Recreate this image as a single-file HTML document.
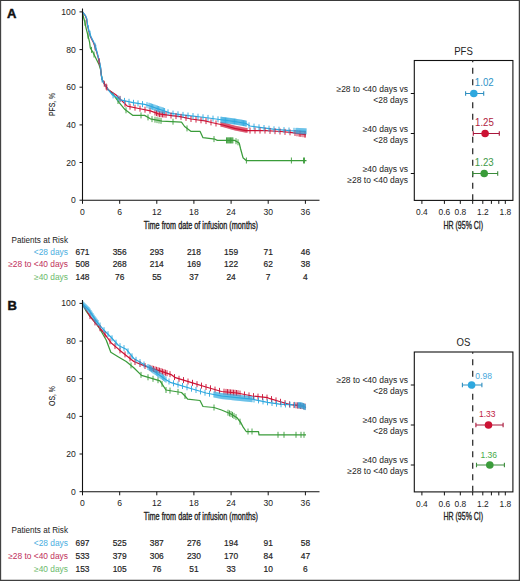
<!DOCTYPE html><html><head><meta charset="utf-8"><style>html,body{margin:0;padding:0;background:#fff;}svg{display:block;}</style></head><body><svg width="520" height="581" viewBox="0 0 520 581">
<rect x="0" y="0" width="520" height="581" fill="#fff"/>
<polyline points="82.6,12.0 83.4,17.0 84.8,21.8 86.2,28.6 88.3,36.9 89.6,42.4 90.3,48.0 92.4,51.3 95.5,57.5 99.1,64.8 100.7,70.0 102.1,79.5 104.2,83.6 108.3,89.8 112.0,92.8 119.2,102.7 125.0,109.6 133.0,115.4 144.6,115.4 150.4,118.8 162.0,121.1 181.5,122.1 184.6,126.5 190.8,131.3 200.0,131.3 203.0,137.7 215.0,139.2 217.3,140.4 234.6,140.4 239.2,143.0 240.5,148.5 243.0,157.7 246.2,160.5 306.5,160.5" fill="none" stroke="#3a9c3a" stroke-width="1.25" stroke-linejoin="round"/>
<polyline points="82.6,12.0 85.3,15.6 86.6,19.0 87.4,25.2 88.7,30.7 90.6,36.9 93.4,42.4 95.4,48.0 96.7,52.0 98.2,57.5 99.8,64.0 100.6,68.0 101.2,75.0 102.1,79.5 104.2,83.6 108.3,89.8 115.8,94.8 127.3,106.1 138.8,108.5 150.4,110.8 158.4,113.8 170.0,115.4 180.0,116.6 191.0,119.0 205.0,120.8 211.5,122.5 223.0,125.0 234.6,128.3 246.0,130.6 265.4,130.6 280.8,131.5 290.0,132.3 306.0,134.6" fill="none" stroke="#cc1234" stroke-width="1.25" stroke-linejoin="round"/>
<polyline points="82.6,12.0 85.5,15.6 86.9,19.0 87.6,25.2 89.0,30.7 91.0,36.9 93.8,42.4 95.8,48.0 97.0,52.0 98.4,57.5 100.0,64.0 100.7,68.0 101.2,75.0 102.1,79.5 104.2,83.6 108.3,89.8 112.5,95.0 121.5,100.2 133.0,102.7 144.6,104.4 150.0,106.0 158.0,108.8 166.0,111.5 170.0,113.2 180.0,114.6 191.0,115.8 205.0,117.5 223.0,120.0 234.6,121.5 246.0,123.5 250.0,126.0 261.5,127.7 273.0,129.2 290.0,130.6 306.0,131.3" fill="none" stroke="#2ea8df" stroke-width="1.25" stroke-linejoin="round"/>
<path d="M85.0 19.8v6.0M88.0 32.7v6.0M91.5 46.9v6.0M94.0 51.5v6.0M118.0 98.0v6.0M126.0 107.3v6.0M141.0 112.4v6.0M148.0 114.4v6.0M152.0 116.1v6.0M155.0 116.7v6.0M157.0 117.1v6.0M159.0 117.5v6.0M161.0 117.9v6.0M173.0 118.7v6.0M187.0 125.4v6.0M214.0 136.1v6.0M226.5 137.4v6.0M227.3 137.4v6.0M228.1 137.4v6.0M228.9 137.4v6.0M229.7 137.4v6.0M230.5 137.4v6.0M231.3 137.4v6.0M232.1 137.4v6.0M232.9 137.4v6.0M236.0 138.2v6.0M238.0 139.3v6.0M246.4 157.5v6.0M291.4 157.5v6.0M303.5 157.5v6.0M304.5 157.5v6.0" stroke="#3a9c3a" stroke-width="0.9" fill="none"/>
<path d="M95.1 44.3v6.0M104.3 80.8v6.0M99.1 58.2v6.0M106.1 83.5v6.0M106.8 84.5v6.0M120.0 95.9v6.0M125.0 100.8v6.0M130.0 103.7v6.0M135.0 104.7v6.0M140.0 105.7v6.0M145.0 106.7v6.0M150.0 107.7v6.0M155.0 109.5v6.0M156.5 110.1v6.0M158.0 110.6v6.0M159.5 111.0v6.0M161.0 111.2v6.0M162.5 111.4v6.0M164.0 111.6v6.0M166.0 111.8v6.0M171.0 112.5v6.0M176.0 113.1v6.0M181.0 113.8v6.0M186.0 114.9v6.0M191.0 116.0v6.0M196.0 116.6v6.0M201.0 117.3v6.0M206.0 118.1v6.0M211.0 119.4v6.0M216.0 120.5v6.0M250.0 127.6v6.0M255.0 127.6v6.0M260.0 127.6v6.0M265.0 127.6v6.0M270.0 127.9v6.0M275.0 128.2v6.0M280.0 128.5v6.0M285.0 128.9v6.0M290.0 129.3v6.0M295.0 130.0v6.0M300.0 130.7v6.0M305.0 131.5v6.0M297.0 130.3v6.0M299.0 130.6v6.0M301.0 130.9v6.0M303.0 131.2v6.0M305.0 131.5v6.0" stroke="#cc1234" stroke-width="0.9" fill="none"/>
<path d="M221.0 121.9v4.8M222.0 122.1v4.8M223.0 122.3v4.8M224.0 122.6v4.8M225.0 122.9v4.8M226.0 123.2v4.8M227.0 123.4v4.8M228.0 123.7v4.8M229.0 124.0v4.8M230.0 124.3v4.8M231.0 124.6v4.8M232.0 124.9v4.8M233.0 125.1v4.8M234.0 125.4v4.8M235.0 125.7v4.8M236.0 125.9v4.8M237.0 126.1v4.8M238.0 126.3v4.8M239.0 126.5v4.8M240.0 126.7v4.8M241.0 126.9v4.8M242.0 127.1v4.8M243.0 127.3v4.8M244.0 127.5v4.8M245.0 127.7v4.8M246.0 127.9v4.8M247.0 127.9v4.8" stroke="#cc1234" stroke-width="0.9" fill="none"/>
<path d="M90.0 30.7v6.0M88.4 25.3v6.0M113.1 92.4v6.0M95.8 44.9v6.0M95.0 42.8v6.0M117.9 95.1v6.0M102.1 76.5v6.0M120.0 96.3v6.0M124.5 97.9v6.0M129.0 98.8v6.0M133.5 99.8v6.0M138.0 100.4v6.0M142.5 101.1v6.0M147.0 102.1v6.0M149.0 102.7v6.0M150.2 103.1v6.0M151.4 103.5v6.0M152.6 103.9v6.0M153.8 104.3v6.0M155.0 104.7v6.0M156.2 105.2v6.0M157.4 105.6v6.0M158.6 106.0v6.0M159.8 106.4v6.0M161.0 106.8v6.0M162.2 107.2v6.0M163.4 107.6v6.0M164.6 108.0v6.0M168.0 109.3v6.0M173.0 110.6v6.0M178.0 111.3v6.0M183.0 111.9v6.0M188.0 112.5v6.0M193.0 113.0v6.0M198.0 113.7v6.0M203.0 114.3v6.0M208.0 114.9v6.0M213.0 115.6v6.0M218.0 116.3v6.0M221.0 116.7v6.0M221.9 116.8v6.0M222.8 117.0v6.0M223.7 117.1v6.0M224.6 117.2v6.0M225.5 117.3v6.0M226.4 117.4v6.0M227.3 117.6v6.0M228.2 117.7v6.0M229.1 117.8v6.0M230.0 117.9v6.0M230.9 118.0v6.0M231.8 118.1v6.0M232.7 118.3v6.0M233.6 118.4v6.0M234.5 118.5v6.0M235.4 118.6v6.0M236.3 118.8v6.0M237.2 119.0v6.0M238.1 119.1v6.0M239.0 119.3v6.0M239.9 119.4v6.0M240.8 119.6v6.0M241.7 119.7v6.0M242.6 119.9v6.0M243.5 120.1v6.0M244.4 120.2v6.0M245.3 120.4v6.0M246.2 120.6v6.0M249.0 122.4v6.0M254.0 123.6v6.0M259.0 124.3v6.0M264.0 125.0v6.0M269.0 125.7v6.0M274.0 126.3v6.0M279.0 126.7v6.0M284.0 127.1v6.0M289.0 127.5v6.0M294.0 127.8v6.0M296.0 127.9v6.0M297.0 127.9v6.0M298.0 127.9v6.0M299.0 128.0v6.0M300.0 128.0v6.0M301.0 128.1v6.0M302.0 128.1v6.0M303.0 128.2v6.0M304.0 128.2v6.0M305.0 128.3v6.0M306.0 128.3v6.0" stroke="#2ea8df" stroke-width="0.9" fill="none"/>
<polyline points="82.6,304.0 86.0,311.0 89.2,315.4 95.0,322.0 100.0,329.2 106.2,340.0 110.8,352.3 118.5,357.0 126.2,361.5 133.8,367.7 141.5,375.4 149.2,377.7 160.0,380.8 166.0,390.0 181.5,392.5 185.0,396.0 187.7,399.2 200.0,400.5 203.0,406.5 214.0,407.5 221.5,410.0 231.0,414.0 237.0,417.7 241.0,423.0 243.0,426.9 246.2,431.5 258.5,431.5 259.0,434.8 306.0,434.8" fill="none" stroke="#3a9c3a" stroke-width="1.25" stroke-linejoin="round"/>
<polyline points="82.6,304.0 86.2,310.0 89.5,315.5 93.4,320.5 100.7,329.0 106.9,337.0 111.0,342.7 118.8,349.4 126.2,355.4 133.8,361.5 141.5,364.6 149.2,367.7 160.0,370.8 171.1,374.6 175.4,377.7 190.8,382.3 206.0,387.0 221.5,391.5 237.0,393.0 252.3,396.0 267.7,397.7 270.0,398.7 279.6,401.5 289.2,404.4 304.6,406.5" fill="none" stroke="#cc1234" stroke-width="1.25" stroke-linejoin="round"/>
<polyline points="82.6,304.0 89.2,310.3 95.4,319.8 103.0,329.2 110.8,337.0 118.5,345.5 126.2,349.2 133.8,358.5 141.5,363.0 149.2,367.7 160.0,375.4 166.5,380.0 171.1,382.7 175.4,383.8 190.8,388.5 206.0,393.0 221.5,396.0 237.0,397.7 252.3,399.2 267.7,402.3 279.6,404.2 294.0,404.9 301.7,405.4 306.0,407.5" fill="none" stroke="#2ea8df" stroke-width="1.25" stroke-linejoin="round"/>
<path d="M131.0 362.4v6.0M141.0 371.9v6.0M148.0 374.3v6.0M153.0 375.8v6.0M158.0 377.2v6.0M162.0 380.9v6.0M166.0 387.0v6.0M170.0 387.6v6.0M178.0 388.9v6.0M185.0 393.0v6.0M214.0 404.5v6.0M228.0 409.7v6.0M229.5 410.4v6.0M231.0 411.0v6.0M232.5 411.9v6.0M234.0 412.9v6.0M236.0 414.1v6.0M240.0 418.7v6.0M248.0 428.5v6.0M252.0 428.5v6.0M278.0 431.8v6.0M284.0 431.8v6.0M296.0 431.8v6.0M301.0 431.8v6.0M304.0 431.8v6.0" stroke="#3a9c3a" stroke-width="0.9" fill="none"/>
<path d="M90.0 313.1v6.0M95.0 319.4v6.0M100.0 325.2v6.0M105.0 331.5v6.0M110.0 338.3v6.0M115.0 343.1v6.0M120.0 347.4v6.0M125.0 351.4v6.0M130.0 355.4v6.0M135.0 359.0v6.0M140.0 361.0v6.0M145.0 363.0v6.0M150.0 364.9v6.0M152.0 365.5v6.0M153.5 365.9v6.0M155.0 366.4v6.0M156.5 366.8v6.0M158.0 367.2v6.0M159.5 367.7v6.0M161.0 368.1v6.0M162.5 368.7v6.0M164.0 369.2v6.0M165.5 369.7v6.0M167.0 370.2v6.0M170.0 371.2v6.0M174.5 374.1v6.0M179.0 375.8v6.0M183.5 377.1v6.0M188.0 378.5v6.0M192.5 379.8v6.0M197.0 381.2v6.0M201.5 382.6v6.0M206.0 384.0v6.0M210.5 385.3v6.0M215.0 386.6v6.0M219.5 387.9v6.0M224.0 388.7v6.0M226.0 388.9v6.0M227.5 389.1v6.0M229.0 389.2v6.0M230.5 389.4v6.0M232.0 389.5v6.0M233.5 389.7v6.0M235.0 389.8v6.0M236.5 390.0v6.0M238.0 390.2v6.0M240.0 390.6v6.0M244.5 391.5v6.0M249.0 392.4v6.0M253.5 393.1v6.0M258.0 393.6v6.0M262.5 394.1v6.0M267.0 394.6v6.0M271.5 396.1v6.0M276.0 397.4v6.0M280.5 398.8v6.0M285.0 400.1v6.0M289.5 401.4v6.0M294.0 402.1v6.0M296.0 402.3v6.0M297.5 402.5v6.0M299.0 402.7v6.0M300.5 402.9v6.0M302.0 403.1v6.0M303.5 403.4v6.0M305.0 403.5v6.0" stroke="#cc1234" stroke-width="0.9" fill="none"/>
<path d="M83.0 301.4v6.0M84.0 302.3v6.0M85.0 303.3v6.0M86.0 304.2v6.0M87.0 305.2v6.0M88.0 306.2v6.0M89.0 307.1v6.0M90.0 308.5v6.0M91.0 310.1v6.0M92.0 311.6v6.0M93.0 313.1v6.0M94.0 314.7v6.0M95.0 316.2v6.0M96.0 317.5v6.0M97.0 318.8v6.0M98.0 320.0v6.0M100.0 322.5v6.0M104.0 327.2v6.0M108.0 331.2v6.0M112.0 335.3v6.0M116.0 339.7v6.0M120.0 343.2v6.0M124.0 345.1v6.0M128.0 348.4v6.0M132.0 353.3v6.0M136.0 356.8v6.0M140.0 359.1v6.0M144.0 361.5v6.0M148.0 364.0v6.0M149.2 364.7v6.0M150.4 365.6v6.0M151.6 366.4v6.0M152.8 367.3v6.0M154.0 368.1v6.0M155.2 369.0v6.0M156.4 369.8v6.0M157.6 370.7v6.0M158.8 371.5v6.0M160.0 372.4v6.0M161.2 373.2v6.0M162.4 374.1v6.0M163.6 374.9v6.0M164.8 375.8v6.0M166.0 376.6v6.0M169.0 378.5v6.0M173.5 380.3v6.0M178.0 381.6v6.0M182.5 383.0v6.0M187.0 384.3v6.0M191.5 385.7v6.0M196.0 387.0v6.0M200.5 388.4v6.0M205.0 389.7v6.0M209.5 390.7v6.0M214.0 391.5v6.0M215.0 391.7v6.0M216.0 391.9v6.0M217.0 392.1v6.0M218.0 392.3v6.0M219.0 392.5v6.0M220.0 392.7v6.0M221.0 392.9v6.0M222.0 393.1v6.0M223.0 393.2v6.0M224.0 393.3v6.0M225.0 393.4v6.0M226.0 393.5v6.0M227.0 393.6v6.0M228.0 393.7v6.0M229.0 393.8v6.0M230.0 393.9v6.0M231.0 394.0v6.0M232.0 394.2v6.0M233.0 394.3v6.0M234.0 394.4v6.0M235.0 394.5v6.0M236.0 394.6v6.0M237.0 394.7v6.0M238.0 394.8v6.0M239.0 394.9v6.0M240.0 395.0v6.0M241.0 395.1v6.0M242.0 395.2v6.0M243.0 395.3v6.0M244.0 395.4v6.0M245.0 395.5v6.0M246.0 395.6v6.0M247.0 395.7v6.0M248.0 395.8v6.0M249.0 395.9v6.0M250.0 396.0v6.0M251.0 396.1v6.0M252.0 396.2v6.0M254.0 396.5v6.0M258.5 397.4v6.0M263.0 398.4v6.0M267.5 399.3v6.0M272.0 400.0v6.0M276.5 400.7v6.0M281.0 401.3v6.0M285.5 401.5v6.0M290.0 401.7v6.0M294.5 401.9v6.0M298.0 402.2v6.0M298.8 402.2v6.0M299.6 402.3v6.0M300.4 402.3v6.0M301.2 402.4v6.0M302.0 402.5v6.0M302.8 402.9v6.0M303.6 403.3v6.0M304.4 403.7v6.0M305.2 404.1v6.0" stroke="#2ea8df" stroke-width="0.9" fill="none"/>
<path d="M82.5 8.4V200.2H319.5" stroke="#111" stroke-width="1.1" fill="none"/>
<path d="M79.5 200.2H82.5" stroke="#111" stroke-width="1"/>
<text x="75.7" y="203.2" text-anchor="end" font-size="8.6" font-family="Liberation Sans, sans-serif" fill="#222">0</text>
<path d="M79.5 162.5H82.5" stroke="#111" stroke-width="1"/>
<text x="75.7" y="165.6" text-anchor="end" font-size="8.6" font-family="Liberation Sans, sans-serif" fill="#222">20</text>
<path d="M79.5 124.9H82.5" stroke="#111" stroke-width="1"/>
<text x="75.7" y="127.9" text-anchor="end" font-size="8.6" font-family="Liberation Sans, sans-serif" fill="#222">40</text>
<path d="M79.5 87.2H82.5" stroke="#111" stroke-width="1"/>
<text x="75.7" y="90.3" text-anchor="end" font-size="8.6" font-family="Liberation Sans, sans-serif" fill="#222">60</text>
<path d="M79.5 49.6H82.5" stroke="#111" stroke-width="1"/>
<text x="75.7" y="52.6" text-anchor="end" font-size="8.6" font-family="Liberation Sans, sans-serif" fill="#222">80</text>
<path d="M79.5 11.9H82.5" stroke="#111" stroke-width="1"/>
<text x="75.7" y="14.9" text-anchor="end" font-size="8.6" font-family="Liberation Sans, sans-serif" fill="#222">100</text>
<path d="M82.5 200.2V203.79999999999998" stroke="#111" stroke-width="1"/>
<text x="82.5" y="214.7" text-anchor="middle" font-size="8.6" font-family="Liberation Sans, sans-serif" fill="#222">0</text>
<path d="M119.7 200.2V203.79999999999998" stroke="#111" stroke-width="1"/>
<text x="119.7" y="214.7" text-anchor="middle" font-size="8.6" font-family="Liberation Sans, sans-serif" fill="#222">6</text>
<path d="M156.8 200.2V203.79999999999998" stroke="#111" stroke-width="1"/>
<text x="156.8" y="214.7" text-anchor="middle" font-size="8.6" font-family="Liberation Sans, sans-serif" fill="#222">12</text>
<path d="M193.9 200.2V203.79999999999998" stroke="#111" stroke-width="1"/>
<text x="193.9" y="214.7" text-anchor="middle" font-size="8.6" font-family="Liberation Sans, sans-serif" fill="#222">18</text>
<path d="M231.1 200.2V203.79999999999998" stroke="#111" stroke-width="1"/>
<text x="231.1" y="214.7" text-anchor="middle" font-size="8.6" font-family="Liberation Sans, sans-serif" fill="#222">24</text>
<path d="M268.2 200.2V203.79999999999998" stroke="#111" stroke-width="1"/>
<text x="268.2" y="214.7" text-anchor="middle" font-size="8.6" font-family="Liberation Sans, sans-serif" fill="#222">30</text>
<path d="M305.4 200.2V203.79999999999998" stroke="#111" stroke-width="1"/>
<text x="305.4" y="214.7" text-anchor="middle" font-size="8.6" font-family="Liberation Sans, sans-serif" fill="#222">36</text>
<text transform="translate(143.8,228.7) scale(0.666,1)" font-size="10.9" font-family="Liberation Sans, sans-serif" fill="#222" stroke="#222" stroke-width="0.35">Time from date of infusion (months)</text>
<text transform="translate(55.2,104.5) rotate(-90) scale(0.70,1)" text-anchor="middle" font-size="9.8" font-family="Liberation Sans, sans-serif" fill="#222" stroke="#222" stroke-width="0.1">PFS, %</text>
<path d="M82.5 299.9V491.7H319.5" stroke="#111" stroke-width="1.1" fill="none"/>
<path d="M79.5 491.7H82.5" stroke="#111" stroke-width="1"/>
<text x="75.7" y="494.8" text-anchor="end" font-size="8.6" font-family="Liberation Sans, sans-serif" fill="#222">0</text>
<path d="M79.5 454.0H82.5" stroke="#111" stroke-width="1"/>
<text x="75.7" y="457.1" text-anchor="end" font-size="8.6" font-family="Liberation Sans, sans-serif" fill="#222">20</text>
<path d="M79.5 416.4H82.5" stroke="#111" stroke-width="1"/>
<text x="75.7" y="419.4" text-anchor="end" font-size="8.6" font-family="Liberation Sans, sans-serif" fill="#222">40</text>
<path d="M79.5 378.7H82.5" stroke="#111" stroke-width="1"/>
<text x="75.7" y="381.8" text-anchor="end" font-size="8.6" font-family="Liberation Sans, sans-serif" fill="#222">60</text>
<path d="M79.5 341.1H82.5" stroke="#111" stroke-width="1"/>
<text x="75.7" y="344.1" text-anchor="end" font-size="8.6" font-family="Liberation Sans, sans-serif" fill="#222">80</text>
<path d="M79.5 303.4H82.5" stroke="#111" stroke-width="1"/>
<text x="75.7" y="306.4" text-anchor="end" font-size="8.6" font-family="Liberation Sans, sans-serif" fill="#222">100</text>
<path d="M82.5 491.7V495.3" stroke="#111" stroke-width="1"/>
<text x="82.5" y="506.2" text-anchor="middle" font-size="8.6" font-family="Liberation Sans, sans-serif" fill="#222">0</text>
<path d="M119.7 491.7V495.3" stroke="#111" stroke-width="1"/>
<text x="119.7" y="506.2" text-anchor="middle" font-size="8.6" font-family="Liberation Sans, sans-serif" fill="#222">6</text>
<path d="M156.8 491.7V495.3" stroke="#111" stroke-width="1"/>
<text x="156.8" y="506.2" text-anchor="middle" font-size="8.6" font-family="Liberation Sans, sans-serif" fill="#222">12</text>
<path d="M193.9 491.7V495.3" stroke="#111" stroke-width="1"/>
<text x="193.9" y="506.2" text-anchor="middle" font-size="8.6" font-family="Liberation Sans, sans-serif" fill="#222">18</text>
<path d="M231.1 491.7V495.3" stroke="#111" stroke-width="1"/>
<text x="231.1" y="506.2" text-anchor="middle" font-size="8.6" font-family="Liberation Sans, sans-serif" fill="#222">24</text>
<path d="M268.2 491.7V495.3" stroke="#111" stroke-width="1"/>
<text x="268.2" y="506.2" text-anchor="middle" font-size="8.6" font-family="Liberation Sans, sans-serif" fill="#222">30</text>
<path d="M305.4 491.7V495.3" stroke="#111" stroke-width="1"/>
<text x="305.4" y="506.2" text-anchor="middle" font-size="8.6" font-family="Liberation Sans, sans-serif" fill="#222">36</text>
<text transform="translate(143.8,520.2) scale(0.666,1)" font-size="10.9" font-family="Liberation Sans, sans-serif" fill="#222" stroke="#222" stroke-width="0.35">Time from date of infusion (months)</text>
<text transform="translate(55.2,396) rotate(-90) scale(0.70,1)" text-anchor="middle" font-size="9.8" font-family="Liberation Sans, sans-serif" fill="#222" stroke="#222" stroke-width="0.1">OS, %</text>
<text transform="translate(11.5,242.5) scale(0.83,1)" font-size="9.8" font-family="Liberation Sans, sans-serif" fill="#222">Patients at Risk</text>
<text x="68" y="254.9" text-anchor="end" font-size="8.4" font-family="Liberation Sans, sans-serif" fill="#4aaee0">&lt;28 days</text>
<text x="82.5" y="254.9" text-anchor="middle" font-size="8.4" font-family="Liberation Sans, sans-serif" fill="#222" stroke="#222" stroke-width="0.18">671</text>
<text x="119.7" y="254.9" text-anchor="middle" font-size="8.4" font-family="Liberation Sans, sans-serif" fill="#222" stroke="#222" stroke-width="0.18">356</text>
<text x="156.8" y="254.9" text-anchor="middle" font-size="8.4" font-family="Liberation Sans, sans-serif" fill="#222" stroke="#222" stroke-width="0.18">293</text>
<text x="193.9" y="254.9" text-anchor="middle" font-size="8.4" font-family="Liberation Sans, sans-serif" fill="#222" stroke="#222" stroke-width="0.18">218</text>
<text x="231.1" y="254.9" text-anchor="middle" font-size="8.4" font-family="Liberation Sans, sans-serif" fill="#222" stroke="#222" stroke-width="0.18">159</text>
<text x="268.2" y="254.9" text-anchor="middle" font-size="8.4" font-family="Liberation Sans, sans-serif" fill="#222" stroke="#222" stroke-width="0.18">71</text>
<text x="305.4" y="254.9" text-anchor="middle" font-size="8.4" font-family="Liberation Sans, sans-serif" fill="#222" stroke="#222" stroke-width="0.18">46</text>
<text x="68" y="267.0" text-anchor="end" font-size="8.4" font-family="Liberation Sans, sans-serif" fill="#c0305a">≥28 to &lt;40 days</text>
<text x="82.5" y="267.0" text-anchor="middle" font-size="8.4" font-family="Liberation Sans, sans-serif" fill="#222" stroke="#222" stroke-width="0.18">508</text>
<text x="119.7" y="267.0" text-anchor="middle" font-size="8.4" font-family="Liberation Sans, sans-serif" fill="#222" stroke="#222" stroke-width="0.18">268</text>
<text x="156.8" y="267.0" text-anchor="middle" font-size="8.4" font-family="Liberation Sans, sans-serif" fill="#222" stroke="#222" stroke-width="0.18">214</text>
<text x="193.9" y="267.0" text-anchor="middle" font-size="8.4" font-family="Liberation Sans, sans-serif" fill="#222" stroke="#222" stroke-width="0.18">169</text>
<text x="231.1" y="267.0" text-anchor="middle" font-size="8.4" font-family="Liberation Sans, sans-serif" fill="#222" stroke="#222" stroke-width="0.18">122</text>
<text x="268.2" y="267.0" text-anchor="middle" font-size="8.4" font-family="Liberation Sans, sans-serif" fill="#222" stroke="#222" stroke-width="0.18">62</text>
<text x="305.4" y="267.0" text-anchor="middle" font-size="8.4" font-family="Liberation Sans, sans-serif" fill="#222" stroke="#222" stroke-width="0.18">38</text>
<text x="68" y="280.0" text-anchor="end" font-size="8.4" font-family="Liberation Sans, sans-serif" fill="#6cba6c">≥40 days</text>
<text x="82.5" y="280.0" text-anchor="middle" font-size="8.4" font-family="Liberation Sans, sans-serif" fill="#222" stroke="#222" stroke-width="0.18">148</text>
<text x="119.7" y="280.0" text-anchor="middle" font-size="8.4" font-family="Liberation Sans, sans-serif" fill="#222" stroke="#222" stroke-width="0.18">76</text>
<text x="156.8" y="280.0" text-anchor="middle" font-size="8.4" font-family="Liberation Sans, sans-serif" fill="#222" stroke="#222" stroke-width="0.18">55</text>
<text x="193.9" y="280.0" text-anchor="middle" font-size="8.4" font-family="Liberation Sans, sans-serif" fill="#222" stroke="#222" stroke-width="0.18">37</text>
<text x="231.1" y="280.0" text-anchor="middle" font-size="8.4" font-family="Liberation Sans, sans-serif" fill="#222" stroke="#222" stroke-width="0.18">24</text>
<text x="268.2" y="280.0" text-anchor="middle" font-size="8.4" font-family="Liberation Sans, sans-serif" fill="#222" stroke="#222" stroke-width="0.18">7</text>
<text x="305.4" y="280.0" text-anchor="middle" font-size="8.4" font-family="Liberation Sans, sans-serif" fill="#222" stroke="#222" stroke-width="0.18">4</text>
<text transform="translate(11.5,532.5425) scale(0.83,1)" font-size="9.8" font-family="Liberation Sans, sans-serif" fill="#222">Patients at Risk</text>
<text x="68" y="545.8" text-anchor="end" font-size="8.4" font-family="Liberation Sans, sans-serif" fill="#4aaee0">&lt;28 days</text>
<text x="82.5" y="545.8" text-anchor="middle" font-size="8.4" font-family="Liberation Sans, sans-serif" fill="#222" stroke="#222" stroke-width="0.18">697</text>
<text x="119.7" y="545.8" text-anchor="middle" font-size="8.4" font-family="Liberation Sans, sans-serif" fill="#222" stroke="#222" stroke-width="0.18">525</text>
<text x="156.8" y="545.8" text-anchor="middle" font-size="8.4" font-family="Liberation Sans, sans-serif" fill="#222" stroke="#222" stroke-width="0.18">387</text>
<text x="193.9" y="545.8" text-anchor="middle" font-size="8.4" font-family="Liberation Sans, sans-serif" fill="#222" stroke="#222" stroke-width="0.18">276</text>
<text x="231.1" y="545.8" text-anchor="middle" font-size="8.4" font-family="Liberation Sans, sans-serif" fill="#222" stroke="#222" stroke-width="0.18">194</text>
<text x="268.2" y="545.8" text-anchor="middle" font-size="8.4" font-family="Liberation Sans, sans-serif" fill="#222" stroke="#222" stroke-width="0.18">91</text>
<text x="305.4" y="545.8" text-anchor="middle" font-size="8.4" font-family="Liberation Sans, sans-serif" fill="#222" stroke="#222" stroke-width="0.18">58</text>
<text x="68" y="558.8" text-anchor="end" font-size="8.4" font-family="Liberation Sans, sans-serif" fill="#c0305a">≥28 to &lt;40 days</text>
<text x="82.5" y="558.8" text-anchor="middle" font-size="8.4" font-family="Liberation Sans, sans-serif" fill="#222" stroke="#222" stroke-width="0.18">533</text>
<text x="119.7" y="558.8" text-anchor="middle" font-size="8.4" font-family="Liberation Sans, sans-serif" fill="#222" stroke="#222" stroke-width="0.18">379</text>
<text x="156.8" y="558.8" text-anchor="middle" font-size="8.4" font-family="Liberation Sans, sans-serif" fill="#222" stroke="#222" stroke-width="0.18">306</text>
<text x="193.9" y="558.8" text-anchor="middle" font-size="8.4" font-family="Liberation Sans, sans-serif" fill="#222" stroke="#222" stroke-width="0.18">230</text>
<text x="231.1" y="558.8" text-anchor="middle" font-size="8.4" font-family="Liberation Sans, sans-serif" fill="#222" stroke="#222" stroke-width="0.18">170</text>
<text x="268.2" y="558.8" text-anchor="middle" font-size="8.4" font-family="Liberation Sans, sans-serif" fill="#222" stroke="#222" stroke-width="0.18">84</text>
<text x="305.4" y="558.8" text-anchor="middle" font-size="8.4" font-family="Liberation Sans, sans-serif" fill="#222" stroke="#222" stroke-width="0.18">47</text>
<text x="68" y="571.5" text-anchor="end" font-size="8.4" font-family="Liberation Sans, sans-serif" fill="#6cba6c">≥40 days</text>
<text x="82.5" y="571.5" text-anchor="middle" font-size="8.4" font-family="Liberation Sans, sans-serif" fill="#222" stroke="#222" stroke-width="0.18">153</text>
<text x="119.7" y="571.5" text-anchor="middle" font-size="8.4" font-family="Liberation Sans, sans-serif" fill="#222" stroke="#222" stroke-width="0.18">105</text>
<text x="156.8" y="571.5" text-anchor="middle" font-size="8.4" font-family="Liberation Sans, sans-serif" fill="#222" stroke="#222" stroke-width="0.18">76</text>
<text x="193.9" y="571.5" text-anchor="middle" font-size="8.4" font-family="Liberation Sans, sans-serif" fill="#222" stroke="#222" stroke-width="0.18">51</text>
<text x="231.1" y="571.5" text-anchor="middle" font-size="8.4" font-family="Liberation Sans, sans-serif" fill="#222" stroke="#222" stroke-width="0.18">33</text>
<text x="268.2" y="571.5" text-anchor="middle" font-size="8.4" font-family="Liberation Sans, sans-serif" fill="#222" stroke="#222" stroke-width="0.18">10</text>
<text x="305.4" y="571.5" text-anchor="middle" font-size="8.4" font-family="Liberation Sans, sans-serif" fill="#222" stroke="#222" stroke-width="0.18">6</text>
<rect x="414.3" y="60.5" width="98.59999999999997" height="139.9" fill="none" stroke="#111" stroke-width="1.1"/>
<text transform="translate(463.5,54.7) scale(0.87,1)" text-anchor="middle" font-size="11" font-family="Liberation Sans, sans-serif" fill="#222">PFS</text>
<path d="M472.7 60.5V200.4" stroke="#333" stroke-width="1.3" stroke-dasharray="6 5.5" stroke-dashoffset="4.3"/>
<path d="M421.9 200.4V203.9" stroke="#111" stroke-width="1"/>
<text x="421.9" y="215.0" text-anchor="middle" font-size="8.4" font-family="Liberation Sans, sans-serif" fill="#222">0.4</text>
<path d="M444.4 200.4V203.9" stroke="#111" stroke-width="1"/>
<text x="444.4" y="215.0" text-anchor="middle" font-size="8.4" font-family="Liberation Sans, sans-serif" fill="#222">0.6</text>
<path d="M460.3 200.4V203.9" stroke="#111" stroke-width="1"/>
<text x="460.3" y="215.0" text-anchor="middle" font-size="8.4" font-family="Liberation Sans, sans-serif" fill="#222">0.8</text>
<path d="M472.7 200.4V203.9" stroke="#111" stroke-width="1"/>
<path d="M482.8 200.4V203.9" stroke="#111" stroke-width="1"/>
<text x="482.8" y="215.0" text-anchor="middle" font-size="8.4" font-family="Liberation Sans, sans-serif" fill="#222">1.2</text>
<path d="M491.4 200.4V203.9" stroke="#111" stroke-width="1"/>
<path d="M498.8 200.4V203.9" stroke="#111" stroke-width="1"/>
<path d="M505.3 200.4V203.9" stroke="#111" stroke-width="1"/>
<text x="505.3" y="215.0" text-anchor="middle" font-size="8.4" font-family="Liberation Sans, sans-serif" fill="#222">1.8</text>
<text transform="translate(463.3,228.8) scale(0.656,1)" text-anchor="middle" font-size="10.7" font-family="Liberation Sans, sans-serif" fill="#222" stroke="#222" stroke-width="0.35">HR (95% CI)</text>
<path d="M410.8 93.5H414.3" stroke="#111" stroke-width="1"/>
<text x="408" y="91.5" text-anchor="end" font-size="8.5" font-family="Liberation Sans, sans-serif" fill="#222">≥28 to &lt;40 days vs</text>
<text x="408" y="102.5" text-anchor="end" font-size="8.5" font-family="Liberation Sans, sans-serif" fill="#222">&lt;28 days</text>
<path d="M465.6 93.5H483.7M465.6 91.3v4.4M483.7 91.3v4.4" stroke="#2f8fc0" stroke-width="1.1" fill="none"/>
<circle cx="473.8" cy="93.5" r="3.8" fill="#2ea8df"/>
<text transform="translate(474.8,86.0) scale(0.96,1)" font-size="10.1" font-family="Liberation Sans, sans-serif" fill="#2f94c8">1.02</text>
<path d="M410.8 133.5H414.3" stroke="#111" stroke-width="1"/>
<text x="408" y="131.5" text-anchor="end" font-size="8.5" font-family="Liberation Sans, sans-serif" fill="#222">≥40 days vs</text>
<text x="408" y="142.5" text-anchor="end" font-size="8.5" font-family="Liberation Sans, sans-serif" fill="#222">&lt;28 days</text>
<path d="M473.3 133.5H499.3M473.3 131.3v4.4M499.3 131.3v4.4" stroke="#a8163a" stroke-width="1.1" fill="none"/>
<circle cx="485.1" cy="133.5" r="3.8" fill="#cc1234"/>
<text transform="translate(475,126.4) scale(0.96,1)" font-size="10.1" font-family="Liberation Sans, sans-serif" fill="#b01c40">1.25</text>
<path d="M410.8 173.5H414.3" stroke="#111" stroke-width="1"/>
<text x="408" y="171.5" text-anchor="end" font-size="8.5" font-family="Liberation Sans, sans-serif" fill="#222">≥40 days vs</text>
<text x="408" y="182.5" text-anchor="end" font-size="8.5" font-family="Liberation Sans, sans-serif" fill="#222">≥28 to &lt;40 days</text>
<path d="M472.7 173.5H497.7M472.7 171.3v4.4M497.7 171.3v4.4" stroke="#3c8c3c" stroke-width="1.1" fill="none"/>
<circle cx="484.2" cy="173.5" r="3.8" fill="#3a9c3a"/>
<text transform="translate(474.8,166.3) scale(0.96,1)" font-size="10.1" font-family="Liberation Sans, sans-serif" fill="#3e9a48">1.23</text>
<rect x="414.3" y="352.0" width="98.59999999999997" height="139.89999999999998" fill="none" stroke="#111" stroke-width="1.1"/>
<text transform="translate(463.5,346.2) scale(0.87,1)" text-anchor="middle" font-size="11" font-family="Liberation Sans, sans-serif" fill="#222">OS</text>
<path d="M472.7 352.0V491.9" stroke="#333" stroke-width="1.3" stroke-dasharray="6 5.5" stroke-dashoffset="4.3"/>
<path d="M421.9 491.9V495.4" stroke="#111" stroke-width="1"/>
<text x="421.9" y="506.5" text-anchor="middle" font-size="8.4" font-family="Liberation Sans, sans-serif" fill="#222">0.4</text>
<path d="M444.4 491.9V495.4" stroke="#111" stroke-width="1"/>
<text x="444.4" y="506.5" text-anchor="middle" font-size="8.4" font-family="Liberation Sans, sans-serif" fill="#222">0.6</text>
<path d="M460.3 491.9V495.4" stroke="#111" stroke-width="1"/>
<text x="460.3" y="506.5" text-anchor="middle" font-size="8.4" font-family="Liberation Sans, sans-serif" fill="#222">0.8</text>
<path d="M472.7 491.9V495.4" stroke="#111" stroke-width="1"/>
<path d="M482.8 491.9V495.4" stroke="#111" stroke-width="1"/>
<text x="482.8" y="506.5" text-anchor="middle" font-size="8.4" font-family="Liberation Sans, sans-serif" fill="#222">1.2</text>
<path d="M491.4 491.9V495.4" stroke="#111" stroke-width="1"/>
<path d="M498.8 491.9V495.4" stroke="#111" stroke-width="1"/>
<path d="M505.3 491.9V495.4" stroke="#111" stroke-width="1"/>
<text x="505.3" y="506.5" text-anchor="middle" font-size="8.4" font-family="Liberation Sans, sans-serif" fill="#222">1.8</text>
<text transform="translate(463.3,520.3) scale(0.656,1)" text-anchor="middle" font-size="10.7" font-family="Liberation Sans, sans-serif" fill="#222" stroke="#222" stroke-width="0.35">HR (95% CI)</text>
<path d="M410.8 385.0H414.3" stroke="#111" stroke-width="1"/>
<text x="408" y="383.0" text-anchor="end" font-size="8.5" font-family="Liberation Sans, sans-serif" fill="#222">≥28 to &lt;40 days vs</text>
<text x="408" y="394.0" text-anchor="end" font-size="8.5" font-family="Liberation Sans, sans-serif" fill="#222">&lt;28 days</text>
<path d="M462.4 385.0H481.9M462.4 382.8v4.4M481.9 382.8v4.4" stroke="#2f8fc0" stroke-width="1.1" fill="none"/>
<circle cx="471.6" cy="385.0" r="3.8" fill="#2ea8df"/>
<text transform="translate(475.3,378.9) scale(0.95,1)" font-size="9.0" font-family="Liberation Sans, sans-serif" fill="#48a8dc">0.98</text>
<path d="M410.8 425.0H414.3" stroke="#111" stroke-width="1"/>
<text x="408" y="423.0" text-anchor="end" font-size="8.5" font-family="Liberation Sans, sans-serif" fill="#222">≥40 days vs</text>
<text x="408" y="434.0" text-anchor="end" font-size="8.5" font-family="Liberation Sans, sans-serif" fill="#222">&lt;28 days</text>
<path d="M475.9 425.0H503.1M475.9 422.8v4.4M503.1 422.8v4.4" stroke="#a8163a" stroke-width="1.1" fill="none"/>
<circle cx="488.5" cy="425.0" r="3.8" fill="#cc1234"/>
<text transform="translate(479,416.5) scale(0.95,1)" font-size="9.0" font-family="Liberation Sans, sans-serif" fill="#c01c44">1.33</text>
<path d="M410.8 465.0H414.3" stroke="#111" stroke-width="1"/>
<text x="408" y="463.0" text-anchor="end" font-size="8.5" font-family="Liberation Sans, sans-serif" fill="#222">≥40 days vs</text>
<text x="408" y="474.0" text-anchor="end" font-size="8.5" font-family="Liberation Sans, sans-serif" fill="#222">≥28 to &lt;40 days</text>
<path d="M476.5 465.0H504.4M476.5 462.8v4.4M504.4 462.8v4.4" stroke="#3c8c3c" stroke-width="1.1" fill="none"/>
<circle cx="489.8" cy="465.0" r="3.8" fill="#3a9c3a"/>
<text transform="translate(480.4,458.4) scale(0.95,1)" font-size="9.0" font-family="Liberation Sans, sans-serif" fill="#48aa48">1.36</text>
<text x="7" y="18.2" font-size="13" font-weight="bold" font-family="Liberation Sans, sans-serif" fill="#111" stroke="#111" stroke-width="0.45">A</text>
<text x="7.5" y="309.6" font-size="13" font-weight="bold" font-family="Liberation Sans, sans-serif" fill="#111" stroke="#111" stroke-width="0.45">B</text>
<path d="M0 0.5H520M0.6 0V581" stroke="#3a3a3a" stroke-width="1.1" fill="none"/>
<path d="M0 580.35H520M519.4 0V581" stroke="#404040" stroke-width="1.3" fill="none"/>
</svg></body></html>
